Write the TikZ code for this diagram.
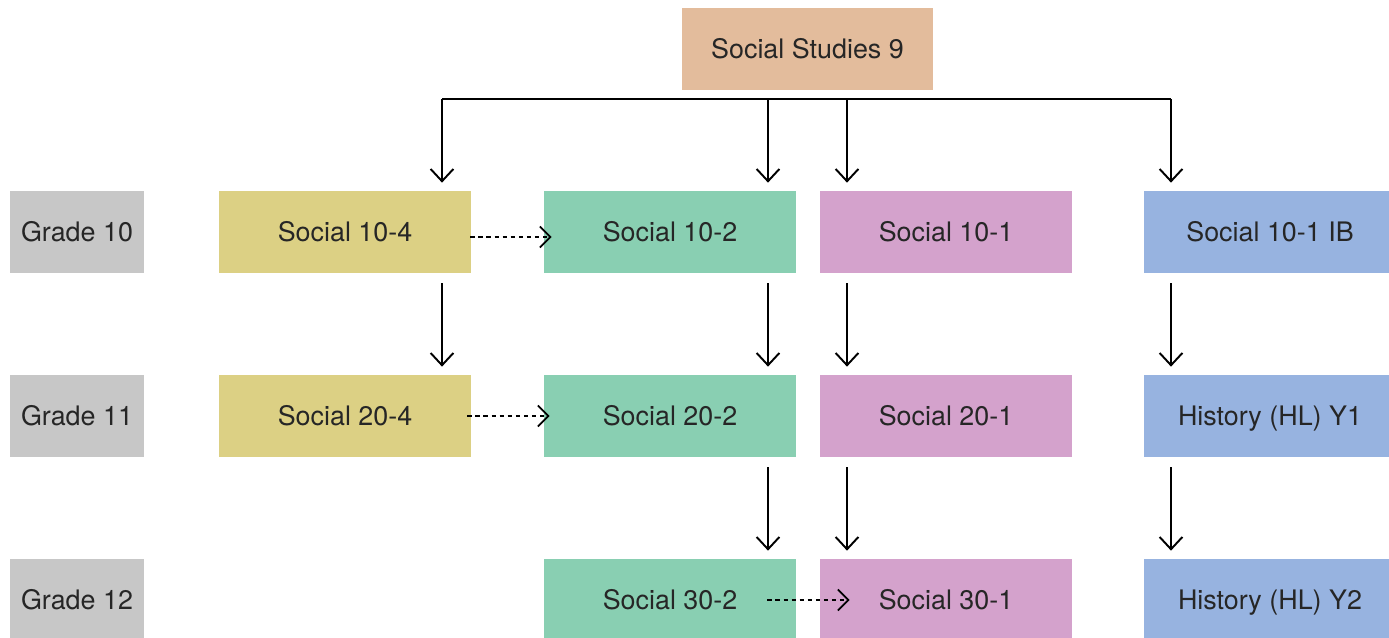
\documentclass[tikz,border=0pt]{standalone}
\usepackage{fontspec}
\setmainfont{TeX Gyre Heros}
\usetikzlibrary{arrows.meta}

\definecolor{peach}{HTML}{E3BC9C}
\definecolor{gradegrey}{HTML}{C7C7C7}
\definecolor{mustard}{HTML}{DCD084}
\definecolor{mint}{HTML}{89CFB2}
\definecolor{orchid}{HTML}{D4A2CC}
\definecolor{sky}{HTML}{97B3E0}
\definecolor{inkgrey}{HTML}{262626}

\begin{document}
\begin{tikzpicture}[x=0.02cm, y=-0.02cm,
    course/.style={minimum width=5.04cm, minimum height=1.64cm, inner sep=0pt,
        text height=11pt, text depth=0pt,
        font=\fontsize{15.3}{18}\selectfont, text=inkgrey},
    grade/.style={course, fill=gradegrey, minimum width=2.68cm},
    down/.style={-{Straight Barb[length=7pt,width=13pt]}, line width=1.1pt,
        shorten >=0.16cm},
    bridge/.style={-{Straight Barb[length=6pt,width=12pt]}, line width=1pt,
        dash pattern=on 2.4pt off 2.2pt}]
    \useasboundingbox (0,0) rectangle (1389,638);

    % top course
    \node[course, fill=peach] (ss9) at (807.5,49) {Social Studies 9};

    % grade labels
    \node[grade] (g10) at (77,232) {Grade 10};
    \node[grade] (g11) at (77,416) {Grade 11};
    \node[grade] (g12) at (77,600) {Grade 12};

    % -4 stream
    \node[course, fill=mustard] (s104) at (345,232) {Social 10-4};
    \node[course, fill=mustard] (s204) at (345,416) {Social 20-4};
    % -2 stream
    \node[course, fill=mint] (s102) at (670,232) {Social 10-2};
    \node[course, fill=mint] (s202) at (670,416) {Social 20-2};
    \node[course, fill=mint] (s302) at (670,600) {Social 30-2};
    % -1 stream
    \node[course, fill=orchid] (s101) at (946,232) {Social 10-1};
    \node[course, fill=orchid] (s201) at (946,416) {Social 20-1};
    \node[course, fill=orchid] (s301) at (946,600) {Social 30-1};
    % IB stream
    \node[course, fill=sky] (ib10) at (1270,232) {Social 10-1 IB};
    \node[course, fill=sky] (hly1) at (1270,416) {History (HL) Y1};
    \node[course, fill=sky] (hly2) at (1270,600) {History (HL) Y2};

    % branching bar
    \coordinate (c1) at (442,99);
    \coordinate (c2) at (768,99);
    \coordinate (c3) at (847,99);
    \coordinate (c4) at (1171,99);
    \draw[line width=1.1pt] (c1) -- (c4);
    \draw[down] (c1) -- (c1 |- s104.north);
    \draw[down] (c2) -- (c2 |- s102.north);
    \draw[down] (c3) -- (c3 |- s101.north);
    \draw[down] (c4) -- (c4 |- ib10.north);

    % grade to grade
    \draw[down, shorten <=0.2cm] (c1 |- s104.south) -- (c1 |- s204.north);
    \draw[down, shorten <=0.2cm] (c2 |- s102.south) -- (c2 |- s202.north);
    \draw[down, shorten <=0.2cm] (c3 |- s101.south) -- (c3 |- s201.north);
    \draw[down, shorten <=0.2cm] (c4 |- ib10.south) -- (c4 |- hly1.north);
    \draw[down, shorten <=0.2cm] (c2 |- s202.south) -- (c2 |- s302.north);
    \draw[down, shorten <=0.2cm] (c3 |- s201.south) -- (c3 |- s301.north);
    \draw[down, shorten <=0.2cm] (c4 |- hly1.south) -- (c4 |- hly2.north);

    % transfers
    \draw[bridge] ([shift={(-1,5)}]s104.east) -- ([shift={(8,5)}]s102.west);
    \draw[bridge] ([shift={(-4,0)}]s204.east) -- ([shift={(6,0)}]s202.west);
    \draw[bridge] ([shift={(-29,0)}]s302.east) -- ([shift={(30,0)}]s301.west);
\end{tikzpicture}
\end{document}
